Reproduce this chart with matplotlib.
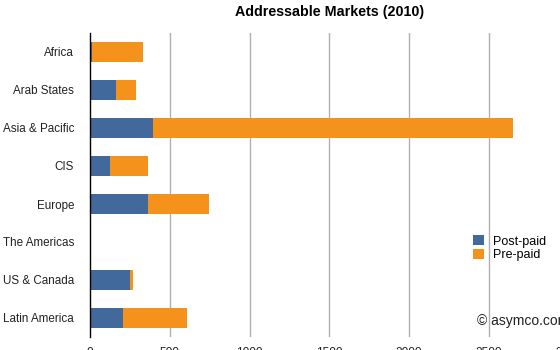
import matplotlib
matplotlib.use("Agg")
import matplotlib.pyplot as plt

regions = ["Africa", "Arab States", "Asia & Pacific", "CIS", "Europe",
           "The Americas", "US & Canada", "Latin America"]
post_paid = [10, 165, 398, 126, 362, 0, 251, 209]
pre_paid = [325, 122, 2253, 236, 381, 0, 21, 400]
xticks = [0, 500, 1000, 1500, 2000, 2500, 3000]

plt.rcParams['font.family'] = ['Liberation Sans', 'DejaVu Sans']

W, H = 560, 350
fig = plt.figure(figsize=(W / 100, H / 100), dpi=100)
left, right, top, bottom = 90, 568.5, 33, 337
ax = fig.add_axes([left / W, 1 - bottom / H, (right - left) / W, (bottom - top) / H])

blue = "#41699c"
orange = "#f5921b"
y = list(range(len(regions)))
ax.barh(y, post_paid, height=0.53, color=blue, label="Post-paid", zorder=3)
ax.barh(y, pre_paid, left=post_paid, height=0.53, color=orange, label="Pre-paid", zorder=3)

ax.set_ylim(len(regions) - 0.5, -0.5)
ax.set_xlim(0, 3000)
ax.set_yticks(y)
ax.set_yticklabels(regions, fontsize=8.4, color="#222222")
ax.set_xticks(xticks)
ax.set_xticklabels([str(v) for v in xticks], fontsize=8.6, color="#222222")
ax.tick_params(axis='y', length=0, pad=11.5)
ax.tick_params(axis='x', length=0, pad=7.5)

for v in xticks[1:]:
    ax.axvline(v, color="#b0b0b0", lw=1, zorder=1)
for s in ["top", "right", "bottom"]:
    ax.spines[s].set_visible(False)
ax.spines["left"].set_color("black")
ax.spines["left"].set_linewidth(1)
ax.spines["left"].set_zorder(4)

ax.set_title("Addressable Markets (2010)", fontsize=10.3, fontweight="bold", pad=12.5)

leg = fig.legend(loc="upper left", bbox_to_anchor=(473 / W, 1 - 235 / H),
                 frameon=False, fontsize=9, handlelength=0.9, handleheight=0.9,
                 handletextpad=0.7, labelspacing=0.1, borderpad=0, borderaxespad=0)

fig.text(477 / W, 1 - 321 / H, "© asymco.com", fontsize=10, va="center", ha="left",
         color="#222222")

fig.savefig("out.png", dpi=100)
